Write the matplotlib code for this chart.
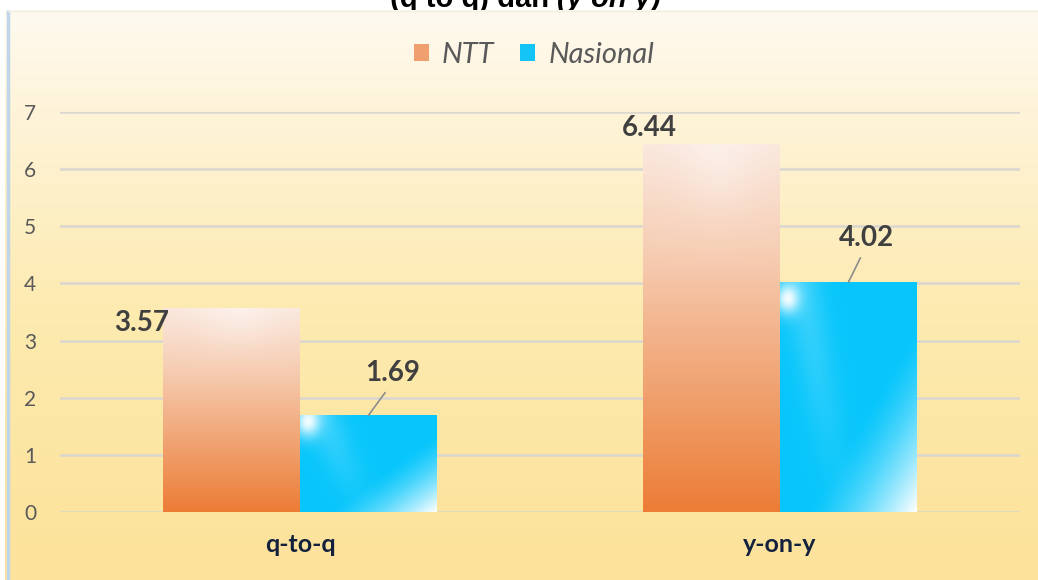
import numpy as np
import matplotlib
matplotlib.use("Agg")
import matplotlib.pyplot as plt
from matplotlib.colors import to_rgb
from matplotlib.patches import Patch

categories = ["q-to-q", "y-on-y"]
ntt = [3.57, 6.44]
nasional = [1.69, 4.02]
series_names = ["NTT", "Nasional"]
yticks = [0, 1, 2, 3, 4, 5, 6, 7]

W, H = 1038, 580
fig = plt.figure(figsize=(W / 100, H / 100), dpi=100)
fig.patch.set_facecolor("white")


def stops_to_colors(pos, stops):
    # piecewise-linear colour ramp
    p = [s[0] for s in stops]
    cols = np.array([to_rgb(s[1]) for s in stops])
    return np.stack([np.interp(pos, p, cols[:, k]) for k in range(3)], axis=-1)


# title line, partly hidden behind the chart panel
fig.text(557 / W, 1 - 7 / H, "(q to q) dan ", ha="right", va="baseline",
         fontsize=21, fontweight="bold", family="Liberation Sans", zorder=0)
fig.text(557 / W, 1 - 7 / H, "(y on y)", ha="left", va="baseline",
         fontsize=21, fontweight="bold", style="italic",
         family="Liberation Sans", zorder=0)

# chart panel with a soft cream-to-yellow background
panel = fig.add_axes([5 / W, 0, 1 - 5 / W, 570 / H], zorder=1)
v = np.linspace(0, 1, 300)[:, None]
bg = stops_to_colors(v[:, 0], [(0, "#FFFAF0"), (0.2, "#FEF3D6"),
                               (0.55, "#FDEAAE"), (1, "#FCE29A")])
bg = np.repeat(bg[:, None, :], 2, axis=1)
panel.imshow(bg, aspect="auto", extent=[0, 1, 0, 1], interpolation="bilinear")
panel.set_xlim(0, 1)
panel.set_ylim(0, 1)
panel.axis("off")
panel.plot([0.003, 0.003], [0, 1], color="#BFD5EA", lw=2.5, solid_capstyle="butt")
panel.plot([0.003, 1], [0.999, 0.999], color="#F2EEE4", lw=1)

ax = fig.add_axes([60 / W, (H - 512) / H, 960 / W, 400 / H], zorder=2)
ax.patch.set_alpha(0)

x = np.arange(len(categories))
width = 0.285
bars_ntt = ax.bar(x - width / 2, ntt, width, facecolor="none", edgecolor="none")
bars_nas = ax.bar(x + width / 2, nasional, width, facecolor="none", edgecolor="none")


def ntt_fill(n=200, m=60):
    vv = np.linspace(0, 1, n)[:, None] * np.ones((1, m))
    uu = np.ones((n, 1)) * np.linspace(0, 1, m)[None, :]
    img = stops_to_colors(vv, [(0, "#FAE8DE"), (0.3, "#F6CDB3"), (0.5, "#F3B58E"),
                               (0.75, "#EF9962"), (1, "#EC7C36")])
    glow = 0.35 * np.exp(-((uu - 0.55) ** 2 / 0.08 + vv ** 2 / 0.03))
    return img + (1 - img) * glow[..., None]


def nas_fill(n=200, m=120, aspect=1.0):
    vv = np.linspace(0, 1, n)[:, None] * np.ones((1, m))
    uu = np.ones((n, 1)) * np.linspace(0, 1, m)[None, :]
    base = np.array(to_rgb("#08C6FB"))
    img = np.ones((n, m, 3)) * base
    diag = np.clip((uu + vv - 1.2) / 0.8, 0, 1) ** 1.4
    spot = 0.85 * np.exp(-((uu - 0.05) ** 2 / 0.008 + ((vv - 0.07) * aspect) ** 2 / 0.008))
    band = 0.22 * np.exp(-((uu - 0.15 - 0.3 * vv) ** 2) / 0.02) * (1 - vv)
    white = np.clip(diag + spot + band, 0, 1)
    return img + (1 - img) * white[..., None]


for bar in bars_ntt:
    x0, w, h = bar.get_x(), bar.get_width(), bar.get_height()
    im = ax.imshow(ntt_fill(), aspect="auto", extent=[x0, x0 + w, 0, h],
                   interpolation="bilinear", zorder=2)
    im.set_clip_path(bar)
for bar in bars_nas:
    x0, w, h = bar.get_x(), bar.get_width(), bar.get_height()
    im = ax.imshow(nas_fill(aspect=h / 3.0), aspect="auto", extent=[x0, x0 + w, 0, h],
                   interpolation="bilinear", zorder=2)
    im.set_clip_path(bar)

ax.set_xlim(-0.5, 1.5)
ax.set_ylim(0, 7)
ax.set_yticks(yticks)
ax.set_xticks(x)
ax.set_xticklabels(categories)
for s in ax.spines.values():
    s.set_visible(False)
ax.grid(axis="y", color="#DAD6D0", lw=1.8, zorder=1)
ax.set_axisbelow(True)
ax.tick_params(axis="y", length=0, pad=17, labelsize=15, labelcolor="#595959")
ax.tick_params(axis="x", length=0, pad=15, labelsize=18, labelcolor="#14213D")
for t in ax.get_yticklabels():
    t.set_family("Lato")
for t in ax.get_xticklabels():
    t.set_family("Lato")
    t.set_fontweight("bold")

label_style = dict(fontsize=20, fontweight="bold", color="#404040", family="Lato",
                   ha="center", va="center", textcoords="offset pixels",
                   annotation_clip=False, zorder=5)
leader = dict(arrowstyle="-", color="#8C8C8C", lw=1.2, shrinkA=3, shrinkB=0,
              relpos=(0.45, 0))

# NTT labels sit beside the bar tops
ax.annotate(f"{ntt[0]:.2f}", xy=(x[0] - width / 2, ntt[0]), xytext=(-90, -15), **label_style)
ax.annotate(f"{ntt[1]:.2f}", xy=(x[1] - width / 2, ntt[1]), xytext=(-62, 16), **label_style)
# Nasional labels with leader lines
ax.annotate(f"{nasional[0]:.2f}", xy=(x[0] + width / 2, nasional[0]), xytext=(24, 42),
            arrowprops=leader, **label_style)
ax.annotate(f"{nasional[1]:.2f}", xy=(x[1] + width / 2, nasional[1]), xytext=(18, 44),
            arrowprops=leader, **label_style)

handles = [Patch(facecolor="#EFA06E", edgecolor="none"),
           Patch(facecolor="#14C4F6", edgecolor="none")]
leg = fig.legend(handles, series_names, loc="center", bbox_to_anchor=(534 / W, 1 - 55 / H),
                 ncol=2, frameon=False, handlelength=0.5, handleheight=0.5,
                 handletextpad=0.45, columnspacing=0.9,
                 prop={"family": "Lato", "style": "italic", "size": 21})
for t in leg.get_texts():
    t.set_color("#595959")
leg.set_zorder(3)

fig.savefig("out.png", dpi=100)
